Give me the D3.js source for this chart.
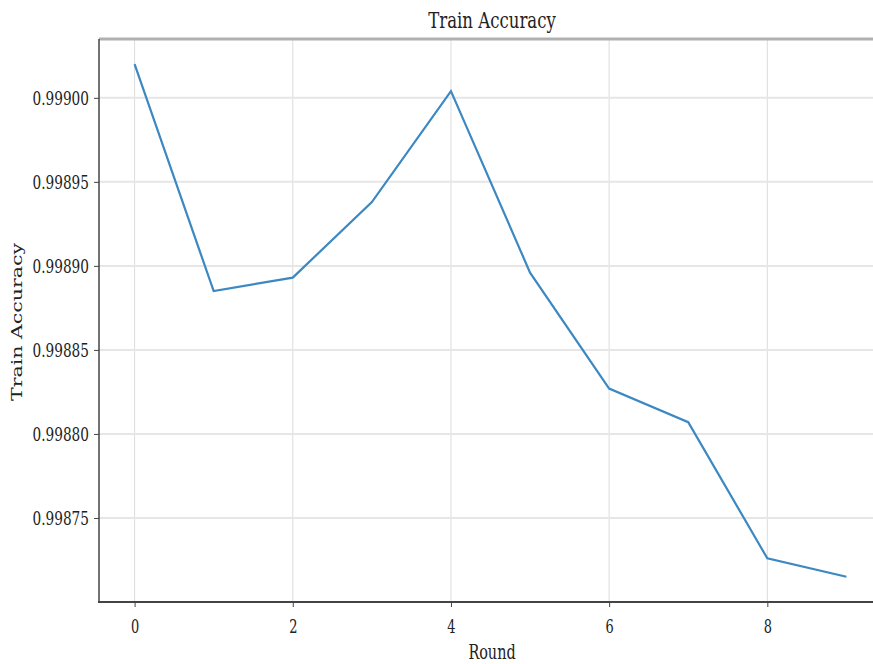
<!DOCTYPE html>
<html>
<head>
<meta charset="utf-8">
<script src="https://cdn.jsdelivr.net/npm/d3@7"></script>
<style>
body { margin: 0; background: #fff; }
text { font-family: "DejaVu Serif", serif; fill: #222; }
</style>
</head>
<body>
<div class="visHolder"></div>
<script>
const w = 873;
const h = 664;

// data
const rounds = [0, 1, 2, 3, 4, 5, 6, 7, 8, 9];
const accuracy = [0.999020, 0.998885, 0.998893, 0.998938, 0.999004, 0.998896, 0.998827, 0.998807, 0.998726, 0.998715];
const xTicks = [0, 2, 4, 6, 8];
const yTicks = [0.99875, 0.99880, 0.99885, 0.99890, 0.99895, 0.99900];

const padLeft = 99, padRight = 882, padTop = 39, padBottom = 602;
const sx = 0.72; // squeezed look of the text

const svg = d3.select('.visHolder').append('svg').attr('width', w).attr('height', h)

const xScale = d3.scaleLinear().domain([-0.45, 9.45]).range([padLeft, padRight])
const yScale = d3.scaleLinear().domain([0.998700, 0.999035]).range([padBottom, padTop])

// grid
svg.append('g').selectAll('line').data(xTicks).enter().append('line')
  .attr('x1', d => xScale(d)).attr('x2', d => xScale(d))
  .attr('y1', padTop).attr('y2', padBottom)
  .attr('stroke', '#dcdcdc').attr('stroke-width', 1)
svg.append('g').selectAll('line').data(yTicks).enter().append('line')
  .attr('x1', padLeft).attr('x2', w)
  .attr('y1', d => yScale(d)).attr('y2', d => yScale(d))
  .attr('stroke', '#e6e6e6').attr('stroke-width', 2)

// line
const line = d3.line().x((d, i) => xScale(rounds[i])).y(d => yScale(d))
svg.append('path').datum(accuracy)
  .attr('d', line)
  .attr('fill', 'none')
  .attr('stroke', '#3b88c2')
  .attr('stroke-width', 2.2)

// spines
svg.append('line').attr('x1', padLeft).attr('x2', w).attr('y1', padTop).attr('y2', padTop)
  .attr('stroke', '#b0b0b0').attr('stroke-width', 3)
svg.append('line').attr('x1', padLeft).attr('x2', padLeft).attr('y1', padTop).attr('y2', padBottom)
  .attr('stroke', '#444').attr('stroke-width', 1.5)
svg.append('line').attr('x1', padLeft - 1).attr('x2', w).attr('y1', padBottom).attr('y2', padBottom)
  .attr('stroke', '#444').attr('stroke-width', 2)

// axes
const xAxis = d3.axisBottom(xScale).tickValues(xTicks).tickSize(5).tickPadding(8).tickFormat(d3.format('d'))
const yAxis = d3.axisLeft(yScale).tickValues(yTicks).tickSize(5).tickPadding(6).tickFormat(d3.format('.5f'))

const gx = svg.append('g').attr('transform', 'translate(0,' + padBottom + ')').call(xAxis)
const gy = svg.append('g').attr('transform', 'translate(' + padLeft + ',0)').call(yAxis)
gx.select('.domain').remove()
gy.select('.domain').remove()
svg.selectAll('.tick line').attr('stroke', '#444').attr('stroke-width', 1)

gx.selectAll('.tick text')
  .attr('font-size', 18).attr('fill', '#222').attr('font-family', '"DejaVu Serif", serif')
  .each(function() {
    const t = d3.select(this)
    t.attr('y', null).attr('dy', null)
      .attr('transform', 'translate(0,31) scale(' + sx + ',1)')
  })
gy.selectAll('.tick text')
  .attr('font-size', 19).attr('fill', '#222').attr('font-family', '"DejaVu Serif", serif')
  .each(function() {
    const t = d3.select(this)
    t.attr('x', null).attr('dy', '0.36em')
      .attr('transform', 'translate(-10,0) scale(' + sx + ',1)')
  })

// labels
svg.append('text').attr('transform', 'translate(492,28) scale(' + sx + ',1)')
  .attr('text-anchor', 'middle').attr('font-size', 23).text('Train Accuracy')
svg.append('text').attr('transform', 'translate(492,659) scale(' + sx + ',1)')
  .attr('text-anchor', 'middle').attr('font-size', 20).text('Round')
svg.append('text').attr('transform', 'translate(22,322) rotate(-90) scale(1,' + sx + ')')
  .attr('text-anchor', 'middle').attr('font-size', 20.5).text('Train Accuracy')
</script>
</body>
</html>
